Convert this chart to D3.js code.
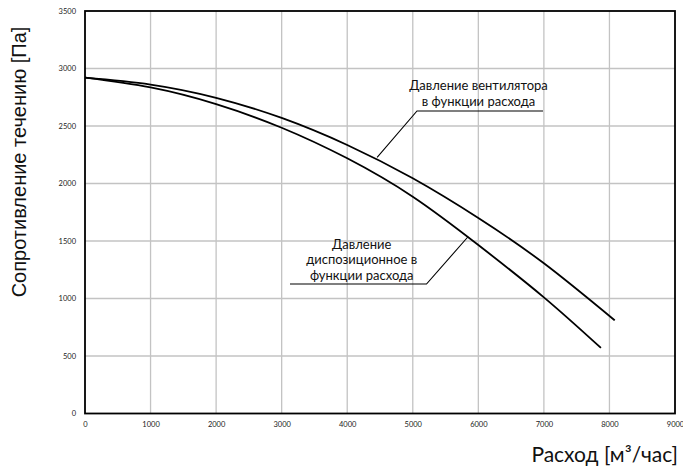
<!DOCTYPE html>
<html>
<head>
<meta charset="utf-8">
<script src="https://cdn.jsdelivr.net/npm/d3@7"></script>
<style>
  html, body { margin: 0; padding: 0; background: #fff; }
  svg { display: block; }
</style>
</head>
<body>
<svg id="chart" width="683" height="468"></svg>
<script>
// Flow rate, m³/h
const flow = [0, 1000, 2000, 3000, 4000, 5000, 6000, 7000];
// Fan pressure vs flow, Pa (last point at its own flow)
const fanPressure = [2920, 2860, 2745, 2570, 2335, 2045, 1700, 1306];
const fanEnd = [8080, 810];
// Available (dispositional) pressure vs flow, Pa
const dispPressure = [2920, 2835, 2690, 2485, 2219, 1885, 1465, 1010];
const dispEnd = [7870, 570];

const xTicks = [0, 1000, 2000, 3000, 4000, 5000, 6000, 7000, 8000, 9000];
const yTicks = [0, 500, 1000, 1500, 2000, 2500, 3000, 3500];

const xTitle = "Расход [м³/час]";
const yTitle = "Сопротивление течению [Па]";
const fanLabel = ["Давление вентилятора", "в функции расхода"];
const dispLabel = ["Давление", "диспозиционное в", "функции расхода"];

const svg = d3.select("#chart");
const m = { left: 85, right: 675, top: 11, bottom: 413.5 };

const x = d3.scaleLinear().domain([0, 9000]).range([m.left, m.right]);
const y = d3.scaleLinear().domain([0, 3500]).range([m.bottom, m.top]);

// grid
const grid = svg.append("g").attr("stroke", "#c3c3c3").attr("stroke-width", 1.3);
grid.selectAll("line.v").data(xTicks.slice(1, -1)).join("line")
  .attr("x1", d => x(d)).attr("x2", d => x(d))
  .attr("y1", m.top).attr("y2", m.bottom);
grid.selectAll("line.h").data(yTicks.slice(1, -1)).join("line")
  .attr("x1", m.left).attr("x2", m.right)
  .attr("y1", d => y(d)).attr("y2", d => y(d));

// axes (labels only, no tick marks)
const xAxis = svg.append("g")
  .attr("transform", `translate(0,${m.bottom})`)
  .call(d3.axisBottom(x).tickValues(xTicks).tickSize(0).tickPadding(8).tickFormat(d3.format("d")));
const yAxis = svg.append("g")
  .attr("transform", `translate(${m.left},0)`)
  .call(d3.axisLeft(y).tickValues(yTicks).tickSize(0).tickPadding(9).tickFormat(d3.format("d")));
[xAxis, yAxis].forEach(a => {
  a.select(".domain").remove();
  a.selectAll("text").attr("font-family", "Lato, 'Open Sans', sans-serif")
    .attr("font-size", 7.5).attr("fill", "#222");
});

// frame
svg.append("rect")
  .attr("x", m.left).attr("y", m.top)
  .attr("width", m.right - m.left).attr("height", m.bottom - m.top)
  .attr("fill", "none").attr("stroke", "#000").attr("stroke-width", 1.8);

// curves
const line = d3.line().x(d => x(d[0])).y(d => y(d[1])).curve(d3.curveNatural);
const fanData = flow.map((f, i) => [f, fanPressure[i]]).concat([fanEnd]);
const dispData = flow.map((f, i) => [f, dispPressure[i]]).concat([dispEnd]);
[fanData, dispData].forEach(data => {
  svg.append("path").datum(data)
    .attr("d", line)
    .attr("fill", "none").attr("stroke", "#000").attr("stroke-width", 1.8);
});

// annotations with leader lines
function annotate(lines, cx, cy0, lh, leader) {
  const t = svg.append("text")
    .attr("font-family", "Lato, 'Open Sans', sans-serif")
    .attr("font-size", 13).attr("fill", "#111").attr("text-anchor", "middle");
  lines.forEach((s, i) => t.append("tspan").attr("x", cx).attr("y", cy0 + i * lh).text(s));
  svg.append("path")
    .attr("d", d3.line()(leader))
    .attr("fill", "none").attr("stroke", "#000").attr("stroke-width", 1.1);
}

annotate(fanLabel, 478.5, 89.5, 16.5,
  [[543, 111], [417, 111], [x(4456), y(2228)]]);
annotate(dispLabel, 361.7, 248.5, 15.5,
  [[290, 284], [426.5, 284], [x(5843), y(1537)]]);

// axis titles
svg.append("text")
  .attr("x", 678).attr("y", 462)
  .attr("text-anchor", "end")
  .attr("font-family", "Lato, 'Open Sans', sans-serif")
  .attr("font-size", 21).attr("fill", "#111")
  .text(xTitle);

svg.append("text")
  .attr("transform", "translate(25.5,162) rotate(-90)")
  .attr("text-anchor", "middle")
  .attr("font-family", "'Liberation Sans', Arial, sans-serif")
  .attr("font-size", 20).attr("fill", "#111")
  .text(yTitle);
</script>
</body>
</html>
